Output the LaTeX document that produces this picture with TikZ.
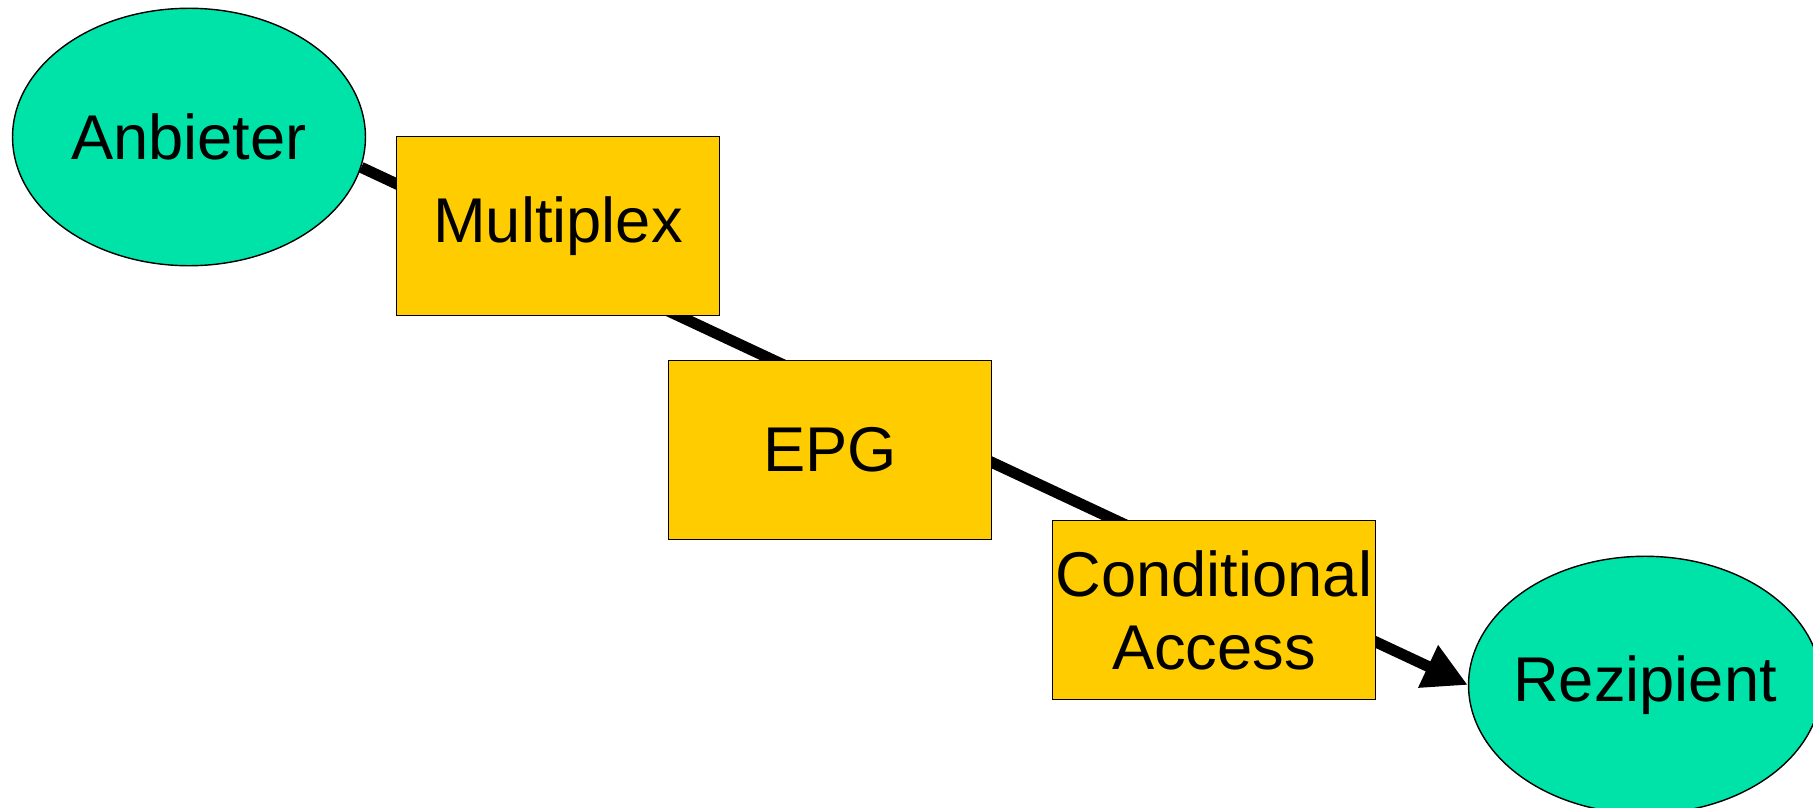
\documentclass[tikz,border=0pt]{standalone}
\usepackage{fontspec}
\setmainfont{Liberation Sans}
\usetikzlibrary{arrows.meta,shapes.geometric}
\definecolor{partygreen}{HTML}{00E3A8}
\definecolor{stageyellow}{HTML}{FFCC00}
\begin{document}
\begin{tikzpicture}[
            x=0.02cm, y=-0.02cm,
            party/.style={ellipse, draw, line width=0.8pt, fill=partygreen, minimum width=7.06cm, minimum height=5.15cm, inner sep=-0.6cm},
            stage box/.style={rectangle, draw, line width=0.8pt, fill=stageyellow, minimum width=6.46cm, minimum height=3.58cm, inner sep=0pt},
            flow/.style={line width=6.3pt, -{Triangle[length=25pt, width=25pt]}},
            every node/.style={align=center, font=\fontsize{36}{41.5}\selectfont}
    ]
        \clip (0,0) rectangle (1813,808);
        \useasboundingbox (0,0) rectangle (1813,808);

        % Sender and receiver
        \node[party] (anbieter) at (189,137) {Anbieter};
        \node[party] (rezipient) at (1645,685) {Rezipient};

        % Arrow
        \draw[flow] (anbieter.-10.7) -- (rezipient.west);

        % Stages
        \node[stage box] (multiplex) at (558,226) {Multiplex};
        \node[stage box] (epg) at (830,450) {EPG};
        \node[stage box] (ca) at (1214,610) {Conditional\\Access};

    \end{tikzpicture}
\end{document}
